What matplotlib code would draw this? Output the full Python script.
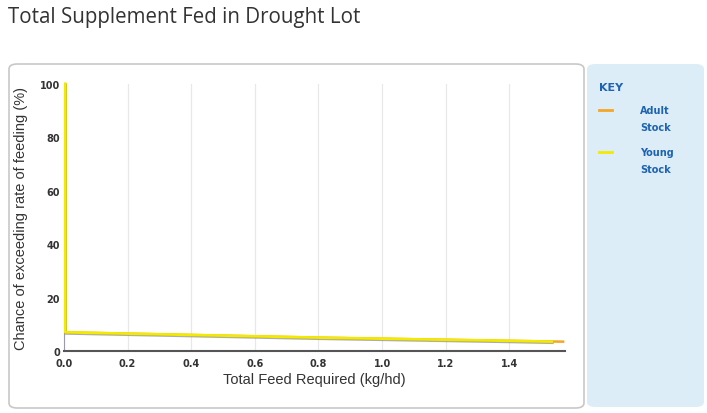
import matplotlib.pyplot as plt
import matplotlib.patheffects as pe
from matplotlib.patches import FancyBboxPatch

# data
feed = [0.0, 0.0, 0.2, 0.4, 0.6, 0.8, 1.0, 1.2, 1.4, 1.53]
young = [100, 7.0, 6.5, 6.0, 5.5, 5.0, 4.6, 4.2, 3.8, 3.5]
feed_adult = [0.0, 0.0, 0.2, 0.4, 0.6, 0.8, 1.0, 1.2, 1.4, 1.565]
adult = [100, 7.0, 6.5, 6.0, 5.5, 5.0, 4.6, 4.2, 3.8, 3.5]
xticks = [0.0, 0.2, 0.4, 0.6, 0.8, 1.0, 1.2, 1.4]
yticks = [0, 20, 40, 60, 80, 100]

W, H = 707, 414
fig = plt.figure(figsize=(W / 100, H / 100), dpi=100)

def fx(px):
    return px / W

def fy(py):
    return 1 - py / H

# panels
panel = FancyBboxPatch((fx(9), fy(409)), fx(575), (409 - 65) / H,
                       boxstyle="round,pad=0,rounding_size=0.012",
                       transform=fig.transFigure, facecolor='white',
                       edgecolor='#c8c8c8', linewidth=1.2, zorder=-5)
fig.patches.append(panel)
key = FancyBboxPatch((fx(587), fy(408)), fx(117), (408 - 65) / H,
                     boxstyle="round,pad=0,rounding_size=0.012",
                     transform=fig.transFigure, facecolor='#dcedf8',
                     edgecolor='none', zorder=-5)
fig.patches.append(key)

fig.text(fx(8), fy(18), "Total Supplement Fed in Drought Lot", fontsize=14.8,
         color='#333333', family='Open Sans', va='center', ha='left')

ax = fig.add_axes([fx(64), fy(352), fx(565 - 64), (352 - 85) / H])
ax.set_zorder(2)
ax.patch.set_visible(False)
ax.plot([v + 0.004 for v in feed_adult], adult, color='#f5a623', linewidth=1.8,
        clip_on=False, zorder=3)
ax.plot([v + 0.004 for v in feed], young, color='#f2ea00', linewidth=1.9,
        clip_on=False, zorder=4,
        path_effects=[pe.SimpleLineShadow(offset=(0.3, -0.8), shadow_color='#777777', alpha=0.6),
                      pe.Normal()])
ax.set_xlim(0, 1.575)
ax.set_ylim(0, 100)
ax.set_xticks(xticks)
ax.set_xticklabels(["%.1f" % v for v in xticks])
ax.set_yticks(yticks)
ax.tick_params(length=0, labelsize=7, colors='#333333')
ax.tick_params(axis='x', pad=5)
ax.tick_params(axis='y', pad=3)
for lab in ax.get_xticklabels() + ax.get_yticklabels():
    lab.set_fontweight('bold')
ax.grid(axis='x', color='#e8e8e8', linewidth=0.9)
ax.set_axisbelow(True)
for s in ['top', 'right']:
    ax.spines[s].set_visible(False)
ax.spines['left'].set_color('#9a9aa8')
ax.spines['bottom'].set_color('#555555')
ax.spines['bottom'].set_linewidth(1.5)
ax.set_xlabel("Total Feed Required (kg/hd)", fontsize=10.5, color='#333333',
              family='Liberation Sans', labelpad=3)
ax.set_ylabel("Chance of exceeding rate of feeding (%)", fontsize=10.5,
              color='#333333', family='Liberation Sans', labelpad=8)

# key
blue = '#1e63b0'
fig.text(fx(599), fy(88), "KEY", fontsize=8, fontweight='bold', color=blue, va='center')
fig.lines.append(plt.Line2D([fx(599), fx(612)], [fy(111), fy(111)],
                            transform=fig.transFigure, color='#f5a623', linewidth=2))
fig.text(fx(640), fy(111), "Adult", fontsize=7, fontweight='bold', color=blue, va='center')
fig.text(fx(640), fy(128), "Stock", fontsize=7, fontweight='bold', color=blue, va='center')
fig.lines.append(plt.Line2D([fx(599), fx(612)], [fy(153), fy(153)],
                            transform=fig.transFigure, color='#f2ea00', linewidth=2))
fig.text(fx(640), fy(153), "Young", fontsize=7, fontweight='bold', color=blue, va='center')
fig.text(fx(640), fy(170), "Stock", fontsize=7, fontweight='bold', color=blue, va='center')

fig.savefig("out.png", dpi=100)
